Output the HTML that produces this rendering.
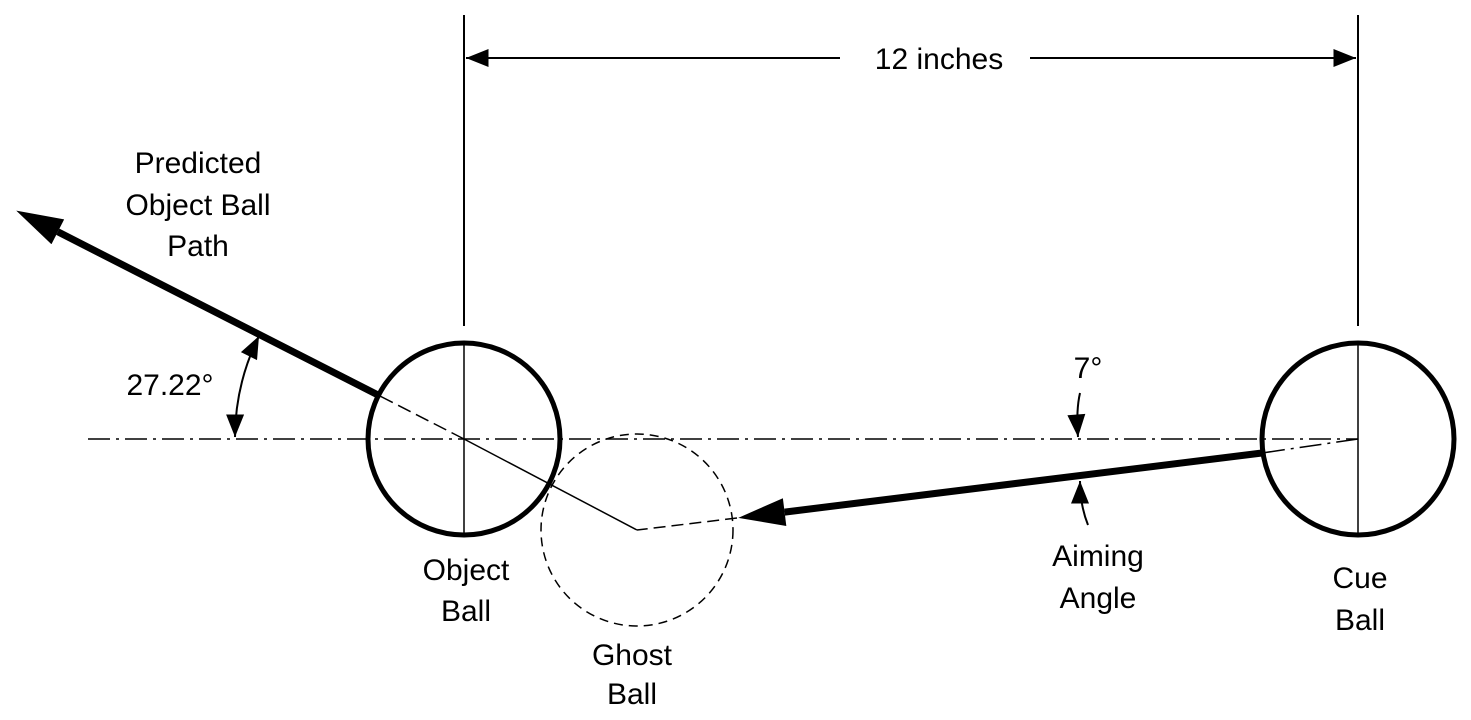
<!DOCTYPE html>
<html><head><meta charset="utf-8"><style>
html,body{margin:0;padding:0;background:#fff;}
svg{display:block;}
text{font-family:"Liberation Sans",Arial,sans-serif;font-size:30px;fill:#000;}
</style></head><body>
<svg width="1471" height="720" viewBox="0 0 1471 720">
<defs>
<marker id="ahs" viewBox="0 0 10 8" refX="10" refY="4" markerWidth="24" markerHeight="18" markerUnits="userSpaceOnUse" orient="auto-start-reverse">
<path d="M0,0 L10,4 L0,8 z"/></marker>
<marker id="ahb" viewBox="0 0 10 6" refX="0" refY="3" markerWidth="48" markerHeight="28" markerUnits="userSpaceOnUse" orient="auto">
<path d="M0,0 L10,3 L0,6 z"/></marker>
</defs>
<g>
<line x1="464" y1="15" x2="464" y2="326" stroke="#000" stroke-width="2"/>
<line x1="1358" y1="15" x2="1358" y2="326" stroke="#000" stroke-width="2"/>
<line x1="840" y1="58" x2="466" y2="58" stroke="#000" stroke-width="2" marker-end="url(#ahs)"/>
<line x1="1030" y1="58" x2="1356" y2="58" stroke="#000" stroke-width="2" marker-end="url(#ahs)"/>
<text x="939" y="69" text-anchor="middle">12 inches</text>
</g>
<line x1="88" y1="439" x2="1358" y2="439" stroke="#000" stroke-width="1.5" stroke-dasharray="22,6,3,6"/>
<circle cx="464" cy="439" r="96" fill="none" stroke="#000" stroke-width="5"/>
<line x1="464" y1="343" x2="464" y2="536" stroke="#000" stroke-width="1.5"/>
<circle cx="1358" cy="439" r="96" fill="none" stroke="#000" stroke-width="5"/>
<line x1="1358" y1="343" x2="1358" y2="536" stroke="#000" stroke-width="1.5"/>
<circle cx="637" cy="530" r="96" fill="none" stroke="#000" stroke-width="1.5" stroke-dasharray="9,6"/>
<line x1="1358" y1="439" x2="1262" y2="453" stroke="#000" stroke-width="1.5" stroke-dasharray="22,6,3,6"/>
<line x1="1262" y1="453" x2="784.6" y2="512.1" stroke="#000" stroke-width="7" marker-end="url(#ahb)"/>
<line x1="737" y1="518" x2="637" y2="530" stroke="#000" stroke-width="1.5" stroke-dasharray="12,6"/>
<line x1="637" y1="530" x2="464" y2="439" stroke="#000" stroke-width="1.5"/>
<line x1="464" y1="439" x2="378" y2="395" stroke="#000" stroke-width="1.5" stroke-dasharray="14,6"/>
<line x1="378" y1="395" x2="57.8" y2="231.8" stroke="#000" stroke-width="7" marker-end="url(#ahb)"/>
<path d="M259,336 A229,229 0 0 0 235,437" fill="none" stroke="#000" stroke-width="2" marker-start="url(#ahs)" marker-end="url(#ahs)"/>
<text x="170" y="395" text-anchor="middle">27.22°</text>
<path d="M1080,393 Q1076,410 1078,437" fill="none" stroke="#000" stroke-width="2" marker-end="url(#ahs)"/>
<text x="1088" y="378" text-anchor="middle">7°</text>
<path d="M1088,525 Q1080,505 1080,481" fill="none" stroke="#000" stroke-width="2" marker-end="url(#ahs)"/>
<text text-anchor="middle"><tspan x="198" y="173">Predicted</tspan><tspan x="198" y="215">Object Ball</tspan><tspan x="198" y="256">Path</tspan></text>
<text text-anchor="middle"><tspan x="466" y="580">Object</tspan><tspan x="466" y="621">Ball</tspan></text>
<text text-anchor="middle"><tspan x="632" y="665">Ghost</tspan><tspan x="632" y="704">Ball</tspan></text>
<text text-anchor="middle"><tspan x="1098" y="566">Aiming</tspan><tspan x="1098" y="608">Angle</tspan></text>
<text text-anchor="middle"><tspan x="1360" y="588">Cue</tspan><tspan x="1360" y="630">Ball</tspan></text>
</svg>
</body></html>
